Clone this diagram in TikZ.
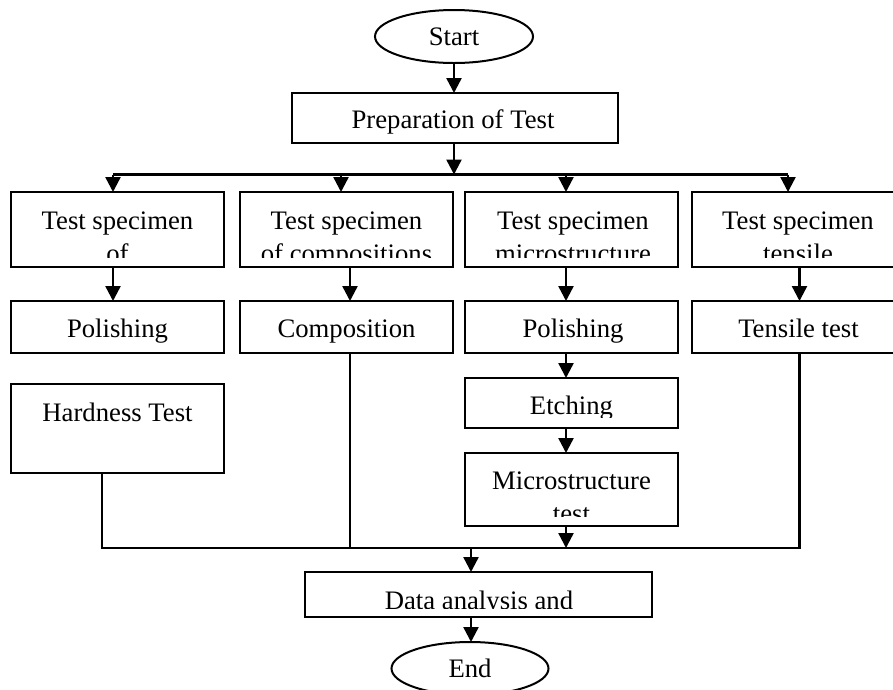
\documentclass[tikz,border=0pt]{standalone}
\usepackage{fontspec}
\setmainfont{Liberation Serif}
\usetikzlibrary{shapes.geometric,arrows.meta}
\begin{document}
\begin{tikzpicture}[x=1pt,y=-1pt,
  box/.style={draw,line width=2pt,rectangle,inner sep=0pt,outer sep=0pt,minimum width=213pt},
  oval/.style={draw,line width=2pt,ellipse,inner sep=0pt,outer sep=0pt,minimum width=158pt,minimum height=53pt,font=\fontsize{26.7}{33}\selectfont},
  txt/.style={anchor=base,inner sep=0pt,font=\fontsize{26.7}{33}\selectfont},
  conn/.style={line width=2.2pt},
  arr/.style={line width=2.4pt,-{Triangle[width=15pt,length=15pt]}}]
\useasboundingbox (0,0) rectangle (893,689);
\clip (0,0) rectangle (893,689);
% nodes
\node[oval] (start) at (454,36.5) {Start};
\node[box,minimum width=326pt,minimum height=50pt] (prep) at (455,118) {};
\node[box,minimum height=75pt] (b1) at (117.5,229.5) {};
\node[box,minimum height=75pt] (b2) at (346.5,229.5) {};
\node[box,minimum height=75pt] (b3) at (571.5,229.5) {};
\node[box,minimum height=75pt] (b4) at (798.5,229.5) {};
\node[box,minimum height=52pt] (p1) at (117.5,327) {};
\node[box,minimum height=52pt] (comp) at (346.5,327) {};
\node[box,minimum height=52pt] (p3) at (571.5,327) {};
\node[box,minimum height=52pt] (tens) at (798.5,327) {};
\node[box,minimum height=89pt] (hard) at (117.5,428.5) {};
\node[box,minimum height=50pt] (etch) at (571.5,403) {};
\node[box,minimum height=73pt] (micro) at (571.5,489.5) {};
\node[box,minimum width=347pt,minimum height=45pt] (data) at (478.5,594.5) {};
\node[oval,minimum width=157pt] (end) at (470,668.5) {End};
% texts (clipped inside their boxes)
\begin{scope}\clip (prep.north west) rectangle ([yshift=9.5pt]prep.south east);
\node[txt] (tprep) at (453,128.5) {Preparation of Test};\end{scope}
\begin{scope}\clip (b1.north west) rectangle ([yshift=9.5pt]b1.south east);
\node[txt] (tb1a) at (117.5,229) {Test specimen};
\node[txt] (tb1b) at (117.5,262) {of};\end{scope}
\begin{scope}\clip (b2.north west) rectangle ([yshift=9.5pt]b2.south east);
\node[txt] (tb2a) at (346.5,229) {Test specimen};
\node[txt] (tb2b) at (346.5,262) {of compositions};\end{scope}
\begin{scope}\clip (b3.north west) rectangle ([yshift=9.5pt]b3.south east);
\node[txt] (tb3a) at (573,229) {Test specimen};
\node[txt] (tb3b) at (573,262) {microstructure};\end{scope}
\begin{scope}\clip (b4.north west) rectangle ([yshift=9.5pt]b4.south east);
\node[txt] (tb4a) at (798,229) {Test specimen};
\node[txt] (tb4b) at (798,262) {tensile};\end{scope}
\node[txt] (tp1) at (117.5,337) {Polishing};
\node[txt] (tcomp) at (346.5,337) {Composition};
\node[txt] (tp3) at (573,337) {Polishing};
\node[txt] (ttens) at (798.5,337) {Tensile test};
\node[txt] (thard) at (117.5,421) {Hardness Test};
\begin{scope}\clip (etch.north west) rectangle ([yshift=10.5pt]etch.south east);
\node[txt] (tetch) at (571.5,414) {Etching};\end{scope}
\begin{scope}\clip (micro.north west) rectangle ([yshift=9.5pt]micro.south east);
\node[txt] (tmicA) at (571.5,489) {Microstructure};
\node[txt] (tmicB) at (571.5,522) {test};\end{scope}
\begin{scope}\clip (data.north west) rectangle ([yshift=9pt]data.south east);
\node[txt] (tdata) at (479,609) {Data analysis and};\end{scope}
% coordinates
\coordinate (t1) at (113,174.5);
\coordinate (t2) at (341,174.5);
\coordinate (t3) at (566,174.5);
\coordinate (t4) at (788,174.5);
\coordinate (r1) at (113,0);
\coordinate (r2) at (350,0);
\coordinate (r3) at (566,0);
\coordinate (r4) at (799.5,0);
\coordinate (hx) at (102,548);
\coordinate (bx4) at (799.5,548);
\coordinate (dx) at (471,548);
% connectors
\draw[arr] (start.south) -- (start.south |- prep.north);
\draw[arr] (start.south |- prep.south) -- (start.south |- t1);
\draw[conn] (t1) -- (t4);
\draw[arr] (t1) -- (t1 |- b1.north);
\draw[arr] (t2) -- (t2 |- b2.north);
\draw[arr] (t3) -- (t3 |- b3.north);
\draw[arr] (t4) -- (t4 |- b4.north);
\draw[arr] (r1 |- b1.south) -- (r1 |- p1.north);
\draw[arr] (r2 |- b2.south) -- (r2 |- comp.north);
\draw[arr] (r3 |- b3.south) -- (r3 |- p3.north);
\draw[arr] (r4 |- b4.south) -- (r4 |- tens.north);
\draw[arr] (r3 |- p3.south) -- (r3 |- etch.north);
\draw[arr] (r3 |- etch.south) -- (r3 |- micro.north);
\draw[arr] (r3 |- micro.south) -- (r3 |- hx);
\draw[conn] (hx |- hard.south) -- (hx) -- (bx4) -- (bx4 |- tens.south);
\draw[conn] (r2 |- comp.south) -- (r2 |- hx);
\draw[arr] (dx) -- (dx |- data.north);
\draw[arr] (dx |- data.south) -- (dx |- end.north);
\end{tikzpicture}
\end{document}
